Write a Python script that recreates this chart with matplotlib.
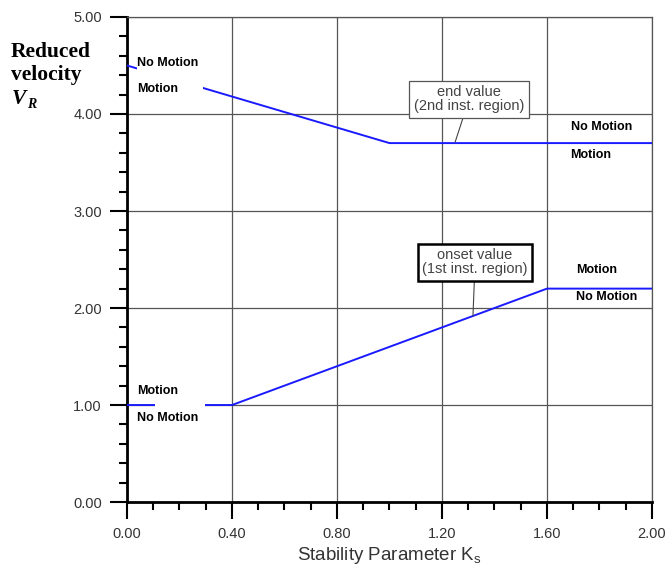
import matplotlib.pyplot as plt
from matplotlib.patches import Rectangle
import numpy as np

plt.rcParams['font.family'] = ['Liberation Sans', 'DejaVu Sans']

# data
ks_end = [0.0, 1.0, 2.0]
vr_end = [4.5, 3.7, 3.7]          # end value (2nd inst. region)
ks_onset = [0.0, 0.4, 1.6, 2.0]
vr_onset = [1.0, 1.0, 2.2, 2.2]   # onset value (1st inst. region)
xticks = [0.0, 0.4, 0.8, 1.2, 1.6, 2.0]
yticks = [0.0, 1.0, 2.0, 3.0, 4.0, 5.0]

fig = plt.figure(figsize=(6.67, 5.66), dpi=100)
ax = fig.add_axes([0.1904, 0.113, 0.7871, 0.857])

ax.plot(ks_end, vr_end, color='#1a1aff', lw=1.4, zorder=3)
ax.plot(ks_onset, vr_onset, color='#1a1aff', lw=1.4, zorder=3)

# white patches behind the motion labels on the left
ax.add_patch(Rectangle((0.04, 4.2), 0.25, 0.42, facecolor='white', edgecolor='none', zorder=4))
ax.add_patch(Rectangle((0.107, 0.9), 0.19, 0.2, facecolor='white', edgecolor='none', zorder=4))

ax.set_xlim(0, 2.0)
ax.set_ylim(0, 5.0)
ax.set_xticks(xticks)
ax.set_xticklabels(['%.2f' % v for v in xticks])
ax.set_yticks(yticks)
ax.set_yticklabels(['%.2f' % v for v in yticks])
ax.set_xticks(np.arange(0, 2.01, 0.1), minor=True)
ax.set_yticks(np.arange(0, 5.01, 0.2), minor=True)
ax.tick_params(which='major', length=12, width=1.5, labelsize=10.5, labelcolor='#333333', pad=6)
ax.tick_params(which='minor', length=6, width=1.5)
ax.grid(True, which='major', color='#555555', lw=0.9)

for s in ['left', 'bottom']:
    ax.spines[s].set_linewidth(2)
for s in ['top', 'right']:
    ax.spines[s].set_linewidth(0.9)
    ax.spines[s].set_color('#555555')

ax.set_xlabel('Stability Parameter K$_\\mathregular{s}$', fontsize=13.5, color='#333333', labelpad=3)

ylab = dict(fontsize=15.5, fontweight='bold', family='Liberation Serif', va='baseline', ha='left')
fig.text(0.016, 0.899, 'Reduced', **ylab)
fig.text(0.016, 0.859, 'velocity', **ylab)
fig.text(0.018, 0.816, 'V', fontstyle='italic', **ylab)
fig.text(0.041, 0.810, 'R', fontsize=10, fontweight='bold', fontstyle='italic',
         family='Liberation Serif', va='baseline', ha='left')

kw = dict(fontsize=9, fontweight='bold', zorder=5, va='center', ha='left')
ax.text(0.04, 4.53, 'No Motion', **kw)
ax.text(0.04, 4.26, 'Motion', **kw)
ax.text(0.04, 1.14, 'Motion', **kw)
ax.text(0.04, 0.87, 'No Motion', **kw)
ax.text(1.69, 3.87, 'No Motion', **kw)
ax.text(1.69, 3.58, 'Motion', **kw)
ax.text(1.71, 2.39, 'Motion', **kw)
ax.text(1.71, 2.11, 'No Motion', **kw)

ax.annotate('end value\n(2nd inst. region)', xy=(1.25, 3.71), xytext=(1.303, 4.15),
            fontsize=10.5, color='#444444', ha='center', va='center', zorder=5, linespacing=1.0,
            bbox=dict(boxstyle='square,pad=0.3', fc='white', ec='#555555', lw=0.9),
            arrowprops=dict(arrowstyle='-', color='#444444', lw=0.8, shrinkA=0, shrinkB=0))
ax.annotate('onset value\n(1st inst. region)', xy=(1.318, 1.92), xytext=(1.326, 2.47),
            fontsize=10.5, color='#444444', ha='center', va='center', zorder=5, linespacing=1.0,
            bbox=dict(boxstyle='square,pad=0.3', fc='white', ec='black', lw=1.8),
            arrowprops=dict(arrowstyle='-', color='#444444', lw=0.8, shrinkA=0, shrinkB=0))

plt.savefig('out.png', dpi=100)
